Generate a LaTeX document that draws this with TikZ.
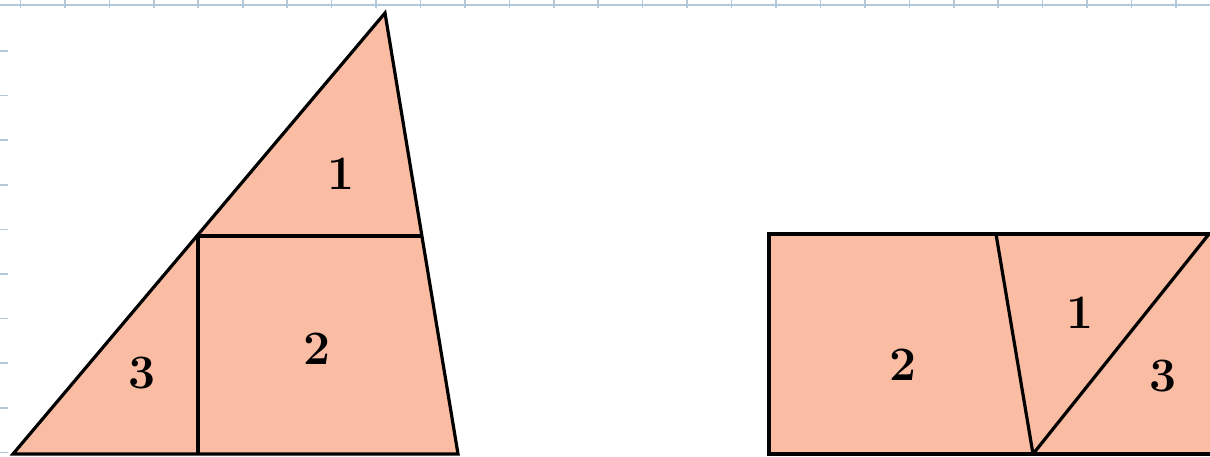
\documentclass[tikz,border=0pt]{standalone}
\begin{document}
\begin{tikzpicture}[x=1pt,y=-1pt,
  piece/.style={fill=peach,draw=black,line width=3.2pt,line join=miter},
  cut/.style={draw=black,line width=3.2pt},
  lab/.style={font=\fontsize{48}{48}\selectfont\bfseries,inner sep=0pt},
  gridline/.style={draw=gridblue,line width=1.6pt}]
\definecolor{peach}{RGB}{250,188,162}
\definecolor{gridblue}{RGB}{180,199,215}
\useasboundingbox (0,0) rectangle (1210,456);
% grid remnants
\draw[gridline] (0,5) -- (1210,5);
\foreach \i in {0,...,26} {
  \draw[gridline] (20.5+44.44*\i,0) -- (20.5+44.44*\i,8);
}
\foreach \j in {0,...,9} {
  \draw[gridline] (0,51+44.6*\j) -- (8,51+44.6*\j);
}
% left triangle
\coordinate (A) at (385,13);
\coordinate (B) at (13,454);
\coordinate (C) at (458,454);
\coordinate (P) at (198,236);
\coordinate (Q) at (422,236);
\coordinate (R) at (198,454);
\path[piece] (A) -- (C) -- (B) -- cycle;
\draw[cut] (P) -- (Q);
\draw[cut] (P) -- (R);
\node[lab] (l1) at (341,174) {1};
\node[lab] (l2) at (317,349) {2};
\node[lab] (l3) at (142,373) {3};
% right rectangle
\coordinate (D) at (769,234);
\coordinate (E) at (1218,454);
\coordinate (F) at (996,234);
\coordinate (G) at (1033,454);
\coordinate (H) at (1209,234);
\path[piece] (D) rectangle (E);
\draw[cut] (F) -- (G);
\draw[cut] (G) -- (H);
\node[lab] (r2) at (903,365) {2};
\node[lab] (r1) at (1080,313) {1};
\node[lab] (r3) at (1163,376) {3};
\end{tikzpicture}
\end{document}
